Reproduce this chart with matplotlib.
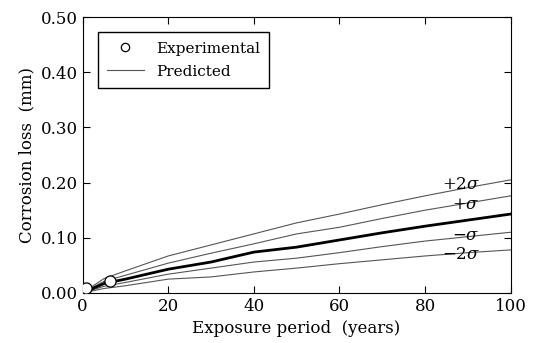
import numpy as np
import matplotlib.pyplot as plt
from matplotlib.lines import Line2D

plt.rcParams["font.family"] = "DejaVu Serif"
plt.rcParams["mathtext.fontset"] = "dejavuserif"

# values
years = [0, 5, 10, 20, 30, 40, 50, 60, 70, 80, 90, 100]
mean = [0.0, 0.017, 0.025, 0.043, 0.056, 0.074, 0.083, 0.096, 0.109, 0.121, 0.132, 0.143]
plus1 = [0.0, 0.021, 0.032, 0.054, 0.072, 0.089, 0.107, 0.119, 0.135, 0.150, 0.163, 0.176]
plus2 = [0.0, 0.026, 0.040, 0.067, 0.087, 0.107, 0.127, 0.143, 0.160, 0.176, 0.191, 0.205]
minus1 = [0.0, 0.012, 0.019, 0.034, 0.045, 0.056, 0.063, 0.073, 0.084, 0.094, 0.102, 0.110]
minus2 = [0.0, 0.008, 0.013, 0.025, 0.029, 0.038, 0.045, 0.053, 0.060, 0.067, 0.073, 0.078]

exp_years = [0.3, 0.8, 6.5]
exp_loss = [0.006, 0.009, 0.022]

band_labels = [r"$+2\sigma$", r"$+\sigma$", r"$-\sigma$", r"$-2\sigma$"]
label_x = [88.5, 89.5, 89.5, 88.5]
label_y = [0.196, 0.160, 0.105, 0.069]

fig, ax = plt.subplots(figsize=(5.33, 3.43), dpi=100)
fig.subplots_adjust(left=0.155, right=0.958, top=0.95, bottom=0.146)

for s in [plus2, plus1, minus1, minus2]:
    ax.plot(years, s, color="#555555", lw=0.8)
ax.plot(years, mean, color="black", lw=2.0)
ax.plot(exp_years, exp_loss, "o", mfc="white", mec="black", ms=8, mew=0.9, zorder=5)

for t, x, y in zip(band_labels, label_x, label_y):
    ax.text(x, y, t, fontsize=12, ha="center", va="center")

ax.set_xlim(0, 100)
ax.set_ylim(0, 0.5)
ax.set_xticks(np.arange(0, 101, 20))
ax.set_yticks(np.arange(0, 0.51, 0.1))
ax.set_yticklabels(["%.2f" % v for v in np.arange(0, 0.51, 0.1)])
ax.tick_params(direction="in", top=True, right=True, labelsize=12, length=5)
ax.set_xlabel("Exposure period  (years)", fontsize=12)
ax.set_ylabel("Corrosion loss  (mm)", fontsize=12)

handles = [Line2D([], [], ls="none", marker="o", mfc="white", mec="black", ms=6, mew=0.9),
           Line2D([], [], color="#555555", lw=0.8)]
ax.legend(handles, ["Experimental", "Predicted"], loc="upper left", fontsize=11,
          frameon=True, fancybox=False, edgecolor="black", framealpha=1,
          borderaxespad=1.0, handlelength=2.4, labelspacing=0.6, borderpad=0.6)

fig.savefig("out.png", dpi=100)
